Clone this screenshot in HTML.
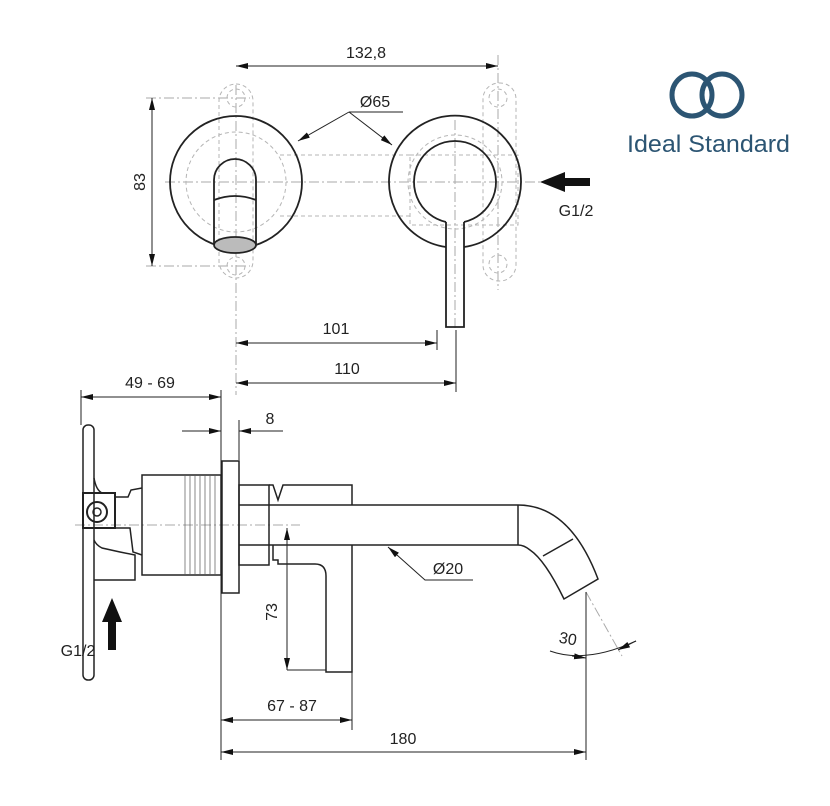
<!DOCTYPE html>
<html><head><meta charset="utf-8"><style>
html,body{margin:0;padding:0;background:#fff;}
svg{display:block;}
text{font-family:"Liberation Sans",sans-serif;fill:#222;}
</style></head><body>
<svg width="830" height="806" viewBox="0 0 830 806" xmlns="http://www.w3.org/2000/svg">
<defs>
<marker id="a" viewBox="0 0 12 6" refX="12" refY="3" markerWidth="12" markerHeight="6" orient="auto-start-reverse" markerUnits="userSpaceOnUse"><path d="M0,0L12,3L0,6z" fill="#111"/></marker>
</defs>
<g fill="none" stroke="#aaa" stroke-width="1" stroke-dasharray="10,3,2,3">
<line x1="165" y1="182" x2="540" y2="182"/>
<line x1="236" y1="85" x2="236" y2="395"/>
<line x1="455" y1="120" x2="455" y2="330"/>
<line x1="498" y1="55" x2="498" y2="290"/>
<line x1="146" y1="98" x2="250" y2="98"/>
<line x1="146" y1="266" x2="250" y2="266"/>
<line x1="75" y1="525" x2="300" y2="525"/>
<line x1="586" y1="592" x2="622" y2="656"/>
</g>
<g fill="none" stroke="#b5b5b5" stroke-width="1" stroke-dasharray="4,3">
<rect x="219" y="84" width="34" height="194" rx="17"/>
<circle cx="236" cy="98" r="9"/><circle cx="236" cy="266" r="9"/>
<circle cx="236" cy="182" r="50"/>
<rect x="483" y="83" width="33" height="198" rx="16"/>
<circle cx="498" cy="98" r="9"/><circle cx="498" cy="264" r="9"/>
<circle cx="455" cy="182" r="47"/>
<rect x="410" y="155" width="108" height="70"/>
<line x1="280" y1="155" x2="410" y2="155"/><line x1="280" y1="216" x2="410" y2="216"/>
</g>
<g fill="none" stroke="#222" stroke-width="1.8">
<circle cx="236" cy="182" r="66"/>
<path d="M214,245 L214,180 A21,21 0 0 1 256,180 L256,245"/>
<path d="M214,200 Q235,192 256,200"/>
<ellipse cx="235" cy="245" rx="21" ry="8" fill="#bbb"/>
<path d="M464,247 A66,66 0 1 0 446,247"/>
<path d="M446,222 A41,41 0 1 1 464,222"/>
<path d="M446,222 Q446,228 446,232 L446,327 L464,327 L464,232 Q464,228 464,222"/>
</g>
<g stroke="#222" stroke-width="1" fill="none">
<line x1="236" y1="66" x2="498" y2="66" marker-start="url(#a)" marker-end="url(#a)"/>
<line x1="152" y1="98" x2="152" y2="266" marker-start="url(#a)" marker-end="url(#a)"/>
<line x1="236" y1="343" x2="437" y2="343" marker-start="url(#a)" marker-end="url(#a)"/>
<line x1="236" y1="383" x2="456" y2="383" marker-start="url(#a)" marker-end="url(#a)"/>
<line x1="437" y1="330" x2="437" y2="350"/>
<line x1="456" y1="330" x2="456" y2="392"/>
<polyline points="349,112 403,112"/>
<line x1="349" y1="112" x2="392" y2="145" marker-end="url(#a)"/>
<line x1="349" y1="112" x2="298" y2="141" marker-end="url(#a)"/>
</g>
<path d="M590,178 L565,178 L565,172 L540,182 L565,192 L565,186 L590,186 Z" fill="#111"/>
<text x="366" y="58" font-size="16" text-anchor="middle">132,8</text>
<text x="375" y="107" font-size="16" text-anchor="middle">Ø65</text>
<text x="145" y="182" font-size="16" text-anchor="middle" transform="rotate(-90 145 182)">83</text>
<text x="576" y="216" font-size="16" text-anchor="middle">G1/2</text>
<text x="336" y="334" font-size="16" text-anchor="middle">101</text>
<text x="347" y="374" font-size="16" text-anchor="middle">110</text>
<g fill="none" stroke="#2c5573" stroke-width="5">
<ellipse cx="692" cy="95" rx="20" ry="21"/>
<ellipse cx="722" cy="95" rx="20" ry="21"/>
</g>
<text x="627" y="152" font-size="24" textLength="163" lengthAdjust="spacingAndGlyphs" style="fill:#2c5573">Ideal Standard</text>
<g fill="none" stroke="#222" stroke-width="1.5">
<rect x="83" y="425" width="11" height="255" rx="5"/>
<rect x="83" y="493" width="32" height="35" stroke-width="2"/>
<circle cx="97" cy="512" r="10" stroke-width="2"/><circle cx="97" cy="512" r="4"/>
<path d="M94,478 Q96,490 102,493 M94,540 Q96,545 102,548 L120,552 L135,555 L135,580 L94,580"/>
<path d="M115,497 L128,497 L131,490 L142,488 M115,528 L130,528 L133,552 L142,555"/>
<rect x="142" y="475" width="79" height="100"/>
<rect x="222" y="461" width="17" height="132"/>
<rect x="239" y="485" width="30" height="80"/>
<path d="M269,485 L273,485 L278,500 L283,485 L352,485 L352,505"/>
<path d="M239,505 L518,505 Q570,505 598,579 L564,599 Q545,560 530,550 Q524,545 518,545 L239,545"/>
<line x1="518" y1="505" x2="518" y2="545"/>
<line x1="543" y1="556" x2="573" y2="539"/>
<path d="M273,545 L273,560 L278,560 L278,564 L315,564 Q326,564 326,576 L326,672 L352,672 L352,545"/>
</g>
<g stroke="#555" stroke-width="0.7">
<line x1="185" y1="476" x2="185" y2="574"/><line x1="190" y1="476" x2="190" y2="574"/><line x1="195" y1="476" x2="195" y2="574"/><line x1="200" y1="476" x2="200" y2="574"/><line x1="205" y1="476" x2="205" y2="574"/><line x1="210" y1="476" x2="210" y2="574"/><line x1="215" y1="476" x2="215" y2="574"/>
</g>
<g stroke="#222" stroke-width="1" fill="none">
<line x1="81" y1="390" x2="81" y2="425"/>
<line x1="221" y1="390" x2="221" y2="760"/>
<line x1="239" y1="420" x2="239" y2="460"/>
<line x1="352" y1="672" x2="352" y2="730"/>
<line x1="586" y1="592" x2="586" y2="760"/>
<line x1="81" y1="397" x2="221" y2="397" marker-start="url(#a)" marker-end="url(#a)"/>
<line x1="182" y1="431" x2="221" y2="431" marker-end="url(#a)"/>
<line x1="283" y1="431" x2="239" y2="431" marker-end="url(#a)"/>
<line x1="287" y1="528" x2="287" y2="670" marker-start="url(#a)" marker-end="url(#a)"/>
<line x1="287" y1="670" x2="326" y2="670"/>
<line x1="221" y1="720" x2="352" y2="720" marker-start="url(#a)" marker-end="url(#a)"/>
<line x1="221" y1="752" x2="586" y2="752" marker-start="url(#a)" marker-end="url(#a)"/>
<polyline points="473,580 425,580 388,547" marker-end="url(#a)"/>
<path d="M550,651 Q586,664 636,641"/>
<line x1="572" y1="656" x2="586" y2="658" marker-end="url(#a)"/>
<line x1="636" y1="641" x2="618" y2="650" marker-end="url(#a)"/>
</g>
<path d="M108,650 L108,622 L102,622 L112,598 L122,622 L116,622 L116,650 Z" fill="#111"/>
<text x="150" y="388" font-size="16" text-anchor="middle">49 - 69</text>
<text x="270" y="424" font-size="16" text-anchor="middle">8</text>
<text x="448" y="574" font-size="16" text-anchor="middle">Ø20</text>
<text x="277" y="612" font-size="16" text-anchor="middle" transform="rotate(-90 277 612)">73</text>
<text x="567" y="644" font-size="16" text-anchor="middle" transform="rotate(10 567 644)">30</text>
<text x="78" y="656" font-size="16" text-anchor="middle">G1/2</text>
<text x="292" y="711" font-size="16" text-anchor="middle">67 - 87</text>
<text x="403" y="744" font-size="16" text-anchor="middle">180</text>
</svg>
</body></html>
